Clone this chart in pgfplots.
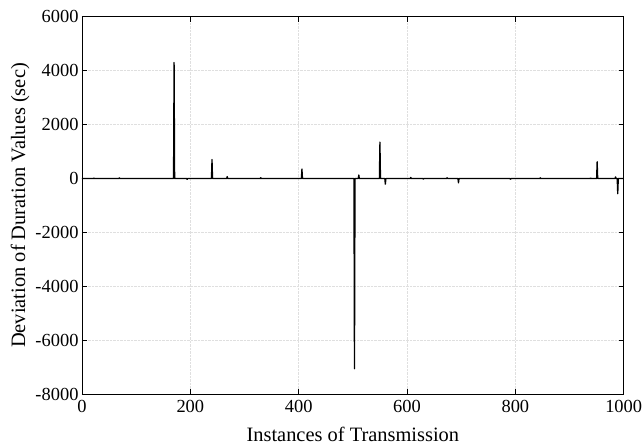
\documentclass[border=0pt]{standalone}
\usepackage{pgfplots}
\pgfplotsset{compat=1.18}
\usetikzlibrary{calc}
\usepackage{fontspec}
\setmainfont{Liberation Serif}
\begin{document}
\begin{tikzpicture}
\begin{axis}[
  scale only axis,
  width=541.7bp, height=377.6bp,
  xmin=0, xmax=1000, ymin=-8000, ymax=6000,
  xtick={0,200,400,600,800,1000},
  xticklabels={0,200,400,600,800,1000},
  ytick={-8000,-6000,-4000,-2000,0,2000,4000,6000},
  yticklabels={-8000,-6000,-4000,-2000,0,2000,4000,6000},
  tick label style={font=\rmfamily\fontsize{18.5}{20}\selectfont, text=black},
  xticklabel style={yshift=-2bp},
  label style={font=\rmfamily\fontsize{20.5}{22}\selectfont},
  xlabel={Instances of Transmission},
  ylabel={Deviation of Duration Values (sec)},
  xlabel style={at={(axis description cs:0.5,-0.1261)}, anchor=base},
  ylabel style={at={(axis description cs:-0.1052,0.5)}, anchor=base},
  grid=major,
  major grid style={densely dotted, gray!25, line width=0.6bp},
  tick align=inside,
  major tick length=5bp,
  tick style={black, line width=0.6bp},
  axis line style={black, line width=0.8bp},
]
\coordinate (SW) at (rel axis cs:0,0);
\coordinate (NE) at (rel axis cs:1,1);
\addplot[black, line width=1.3bp, line join=round] coordinates {
(0,0) (21,0) (22,20) (23,0)
(68,0) (69,25) (70,0)
(169,0) (170,4300) (171,0)
(193,0) (194,-30) (195,0)
(239,0) (240,700) (241,0)
(267,0) (268,70) (269,0)
(329,0) (330,30) (331,0)
(405,0) (406,350) (407,0)
(502,0) (503,-7050) (504,0)
(510,0) (511,130) (512,0)
(549,0) (550,1350) (551,0)
(559,0) (560,-210) (561,0)
(606,0) (607,40) (608,0)
(629,0) (630,-20) (631,0)
(673,0) (674,30) (675,0)
(694,0) (695,-160) (696,0)
(790,0) (791,-25) (792,0)
(845,0) (846,25) (847,0)
(938,0) (939,20) (940,0)
(950,0) (951,620) (952,0)
(984,0) (985,60) (986,0)
(988,0) (989,-560) (990,0)
(1000,0)
};
\end{axis}
\pgfresetboundingbox
\path[use as bounding box] ($(SW)+(-82bp,-51.7bp)$) rectangle ($(NE)+(20.3bp,16.7bp)$);
\end{tikzpicture}
\end{document}
